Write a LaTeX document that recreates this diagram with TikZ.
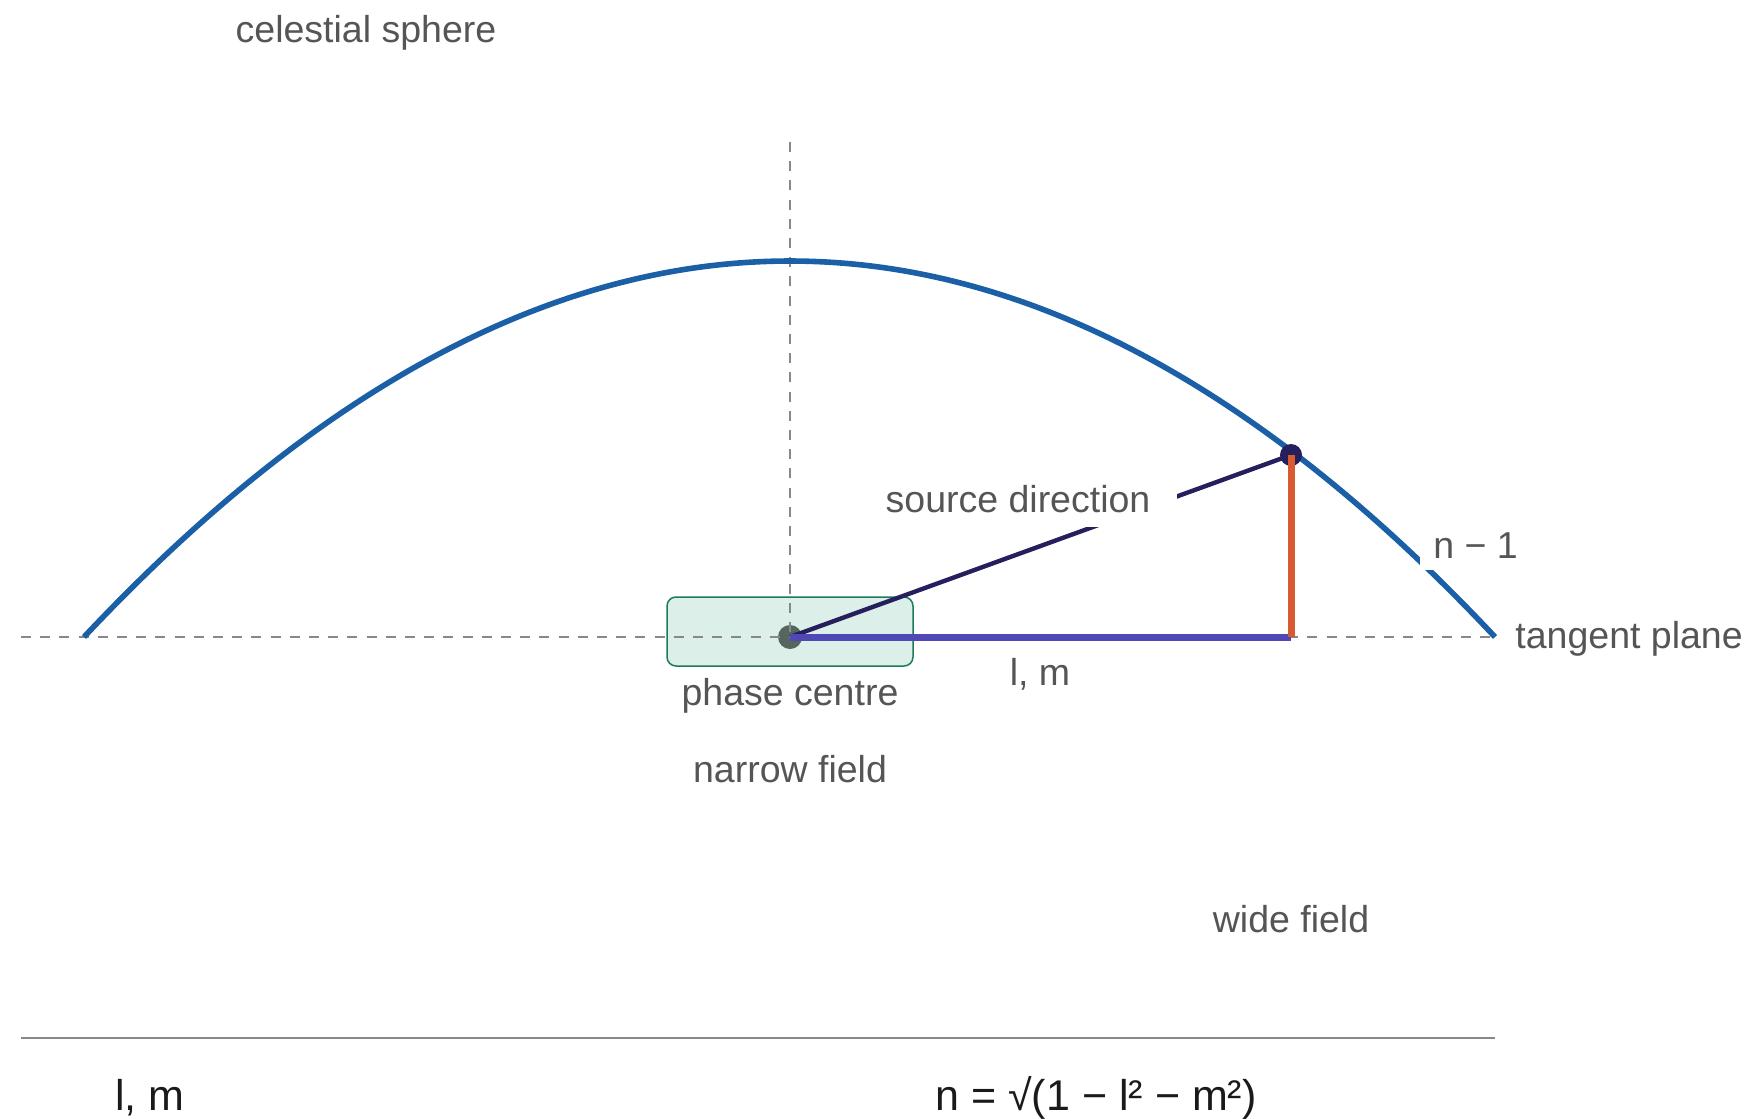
\documentclass[tikz,border=0pt]{standalone}
\usepackage{fontspec}
\setmainfont{Liberation Sans}
\definecolor{arcblue}{RGB}{27,95,167}
\definecolor{navyline}{RGB}{37,31,94}
\definecolor{lmpurple}{RGB}{80,73,181}
\definecolor{nminus}{RGB}{216,90,48}
\definecolor{pcdot}{RGB}{85,102,92}
\definecolor{boxfill}{RGB}{220,239,232}
\definecolor{boxdraw}{RGB}{31,122,92}
\definecolor{txtgray}{RGB}{85,85,85}
\definecolor{dashgray}{RGB}{136,136,136}
\definecolor{txtdark}{RGB}{26,26,26}
\begin{document}
\begin{tikzpicture}[x=0.5pt,y=-0.5pt,
  lbl/.style={text=txtgray, font=\fontsize{18.75}{22}\selectfont, inner sep=0pt, anchor=base},
  masklbl/.style={lbl, fill=white},
  biglbl/.style={text=txtdark, font=\fontsize{21.5}{26}\selectfont, inner sep=0pt, anchor=base},
  guide/.style={draw=dashgray, line width=0.75pt, dash pattern=on 5pt off 4.6pt},
  sphere/.style={draw=arcblue, line width=2.8pt},
  dotstyle/.style={circle, inner sep=0pt, minimum size=#1}
]
\useasboundingbox (0,0) rectangle (1749,1118);

% coordinates
\coordinate (arcL) at (84,637);
\coordinate (arcR) at (1495,637);
\coordinate (planeL) at (21,637);
\coordinate (vtop) at (790,142);
\coordinate (foot) at (1291,637);

% narrow field box
\node[draw=boxdraw, fill=boxfill, line width=0.75pt, rounded corners=4.5pt,
      minimum width=123pt, minimum height=34.5pt, inner sep=0pt] (narrowbox) at (790,631.5) {};

% guide lines
\node[dotstyle=12pt, fill=pcdot] (pc) at (790,637) {};
\draw[guide] (planeL) -- (arcR);
\draw[guide] (vtop) -- (pc.center);

% celestial sphere
\draw[sphere] (arcL) .. controls (554.7,135.7) and (1025.3,135.7) .. (arcR);

% source direction, l m, n-1
\node[dotstyle=11pt, fill=navyline] (src) at (1291,455) {};
\draw[navyline, line width=2.2pt] (pc.center) -- (src.center);
\draw[lmpurple, line width=3.5pt] (pc.center) -- (foot);
\draw[nminus, line width=3.5pt] (src.center) -- (foot);

% labels
\node[lbl] (cs) at (366,43) {celestial sphere};
\node[masklbl, minimum width=159pt, inner ysep=7.5pt] (sd) at (1018,512) {source direction};
\node[masklbl, anchor=base west, inner xsep=6.5pt, inner ysep=6pt] (nm1) at (1420,558) {n − 1};
\node[lbl, anchor=base west] (tp) at (1515,648) {tangent plane};
\node[lbl] (lm) at (1040,685) {l, m};
\node[lbl] (pcl) at (790,705) {phase centre};
\node[lbl] (nf) at (790,782) {narrow field};
\node[lbl] (wf) at (1291,932) {wide field};

% bottom
\coordinate (bl) at (21,1038);
\coordinate (br) at (1495,1038);
\draw[dashgray, line width=1pt] (bl) -- (br);
\node[biglbl] (blm) at (150,1110) {l, m};
\node[biglbl] (bformula) at (1096,1110) {n = √(1 − l² − m²)};
\end{tikzpicture}
\end{document}
